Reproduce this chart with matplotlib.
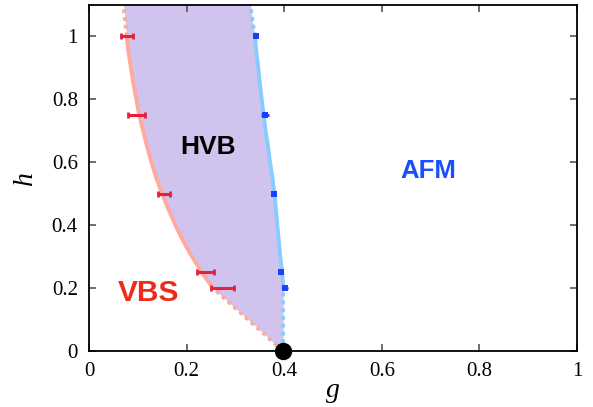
import matplotlib
matplotlib.use("Agg")
import matplotlib.pyplot as plt
import numpy as np

plt.rcParams["font.family"] = ["Liberation Serif", "DejaVu Serif"]

# boundary curves (g as function of h)
h_curve = [0.0, 0.05, 0.1, 0.15, 0.2, 0.25, 0.3, 0.35, 0.4, 0.45, 0.5, 0.55, 0.6,
           0.65, 0.7, 0.75, 0.8, 0.85, 0.9, 0.95, 1.0, 1.05, 1.1]
g_vbs = [0.397, 0.362, 0.326, 0.290, 0.254, 0.231, 0.211, 0.193, 0.177, 0.163, 0.150,
         0.138, 0.128, 0.119, 0.111, 0.103, 0.097, 0.091, 0.086, 0.081, 0.077, 0.074, 0.071]
g_afm = [0.398, 0.398, 0.398, 0.398, 0.398, 0.396, 0.392, 0.389, 0.386, 0.383, 0.380,
         0.376, 0.371, 0.367, 0.362, 0.358, 0.354, 0.350, 0.347, 0.343, 0.340, 0.335, 0.331]

# data points with error bars
red_h = [1.0, 0.75, 0.5, 0.25, 0.2]
red_g = [0.078, 0.098, 0.154, 0.239, 0.274]
red_err = [0.012, 0.017, 0.013, 0.018, 0.023]

blue_h = [1.0, 0.75, 0.5, 0.25, 0.2]
blue_g = [0.342, 0.361, 0.379, 0.394, 0.402]
blue_err = [0.005, 0.008, 0.003, 0.003, 0.006]

crit_g = [0.397]
crit_h = [0.0]

x_ticks = [0, 0.2, 0.4, 0.6, 0.8, 1]
x_ticklabels = ["0", "0.2", "0.4", "0.6", "0.8", "1"]
y_ticks = [0, 0.2, 0.4, 0.6, 0.8, 1]
y_ticklabels = ["0", "0.2", "0.4", "0.6", "0.8", "1"]

fig = plt.figure(figsize=(5.93, 4.07), dpi=100)
ax = fig.add_axes([0.150, 0.1376, 0.823, 0.8505])

hc = np.array(h_curve)
gv = np.array(g_vbs)
ga = np.array(g_afm)

ax.fill_betweenx(hc, gv, ga, color="#d0c4ee", lw=0, zorder=1)

solid = (hc >= 0.2 - 1e-9) & (hc <= 1.0 + 1e-9)
low = hc <= 0.2 + 1e-9
high = hc >= 1.0 - 1e-9

red_c = "#ffaa9c"
blue_c = "#88ccff"
for g, c in [(gv, red_c), (ga, blue_c)]:
    ax.plot(g[solid], hc[solid], color=c, lw=2.8, zorder=2, solid_capstyle="butt")
    ax.plot(g[low], hc[low], color=c, lw=2.8, ls=(0, (1, 1)), zorder=2, dash_capstyle="butt")
    ax.plot(g[high], hc[high], color=c, lw=2.8, ls=(0, (1, 1)), zorder=2, dash_capstyle="butt")

ax.errorbar(red_g, red_h, xerr=red_err, fmt="none", ecolor="#e8203c", elinewidth=2.2,
            capsize=2.5, capthick=2.0, zorder=3)
ax.errorbar(blue_g, blue_h, xerr=blue_err, fmt="s", color="#1a40ff", ms=5, mew=0,
            ecolor="#1a40ff", elinewidth=2.0, capsize=2.5, capthick=1.8, zorder=3)

ax.plot(crit_g, crit_h, "o", color="black", ms=11.5, zorder=5, clip_on=False)

ax.text(0.244, 0.647, "HVB", color="black", fontsize=19, fontweight="bold",
        family="Liberation Sans", ha="center", va="center", zorder=4)
ax.text(0.695, 0.572, "AFM", color="#1a4fff", fontsize=18.5, fontweight="bold",
        family="Liberation Sans", ha="center", va="center", zorder=4)
ax.text(0.121, 0.185, "VBS", color="#ee2a1a", fontsize=21.5, fontweight="bold",
        family="Liberation Sans", ha="center", va="center", zorder=4)

ax.set_xlim(0, 1)
ax.set_ylim(0, 1.1)
ax.set_xticks(x_ticks)
ax.set_xticklabels(x_ticklabels)
ax.set_yticks(y_ticks)
ax.set_yticklabels(y_ticklabels)
ax.tick_params(direction="in", top=True, right=True, length=5, width=1.2,
               color="#555555", labelsize=15)
ax.tick_params(axis="x", pad=8)
ax.tick_params(axis="y", pad=8)
for sp in ax.spines.values():
    sp.set_linewidth(1.3)

ax.set_xlabel("g", fontsize=20, style="italic", labelpad=-2)
ax.set_ylabel("h", fontsize=20, style="italic", labelpad=10)

fig.savefig("out.png", dpi=100)
